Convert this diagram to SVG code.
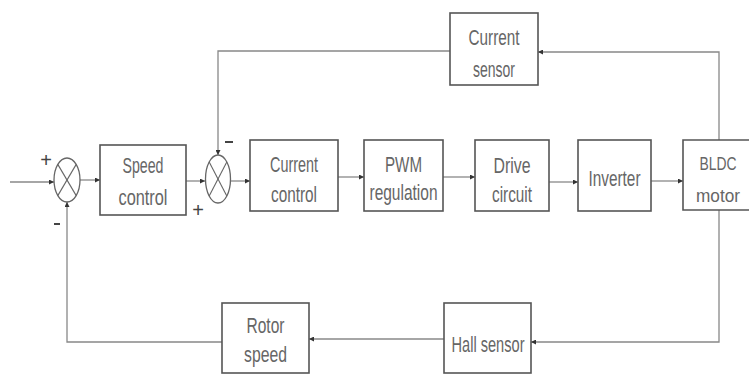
<svg xmlns="http://www.w3.org/2000/svg" width="749" height="374" viewBox="0 0 749 374">
<style>
.box{fill:#fff;stroke:#555;stroke-width:1.6}
.sum{fill:#fff;stroke:#666;stroke-width:1.3}
.x{stroke:#666;stroke-width:1.1}
.ln{fill:none;stroke:#888;stroke-width:1.3}
.t{font-family:"Liberation Sans Narrow","Liberation Sans",Arial,sans-serif;font-size:22px;fill:#666;text-anchor:middle}
.s{font-family:"Liberation Sans",Arial,sans-serif;font-size:20px;fill:#444;text-anchor:middle}
</style>
<defs>
<marker id="ah" viewBox="0 0 10 10" refX="10" refY="5" markerWidth="5" markerHeight="5" orient="auto" markerUnits="userSpaceOnUse">
<path d="M0,0 L10,5 L0,10 z" fill="#333"/>
</marker>
</defs>
<rect width="749" height="374" fill="#fff"/>
<g id="connectors">
<path class="ln" d="M10,182 L54,182" marker-end="url(#ah)"/>
<path class="ln" d="M80,180 L100,180" marker-end="url(#ah)"/>
<path class="ln" d="M186,181 L205,181" marker-end="url(#ah)"/>
<path class="ln" d="M231,181 L250,181" marker-end="url(#ah)"/>
<path class="ln" d="M338,177 L364,177" marker-end="url(#ah)"/>
<path class="ln" d="M443,177 L475,177" marker-end="url(#ah)"/>
<path class="ln" d="M549,182 L578,182" marker-end="url(#ah)"/>
<path class="ln" d="M651,181 L683,181" marker-end="url(#ah)"/>
<path class="ln" d="M719,140 L719,52 L538,52" marker-end="url(#ah)"/>
<path class="ln" d="M450,51 L218,51 L218,155" marker-end="url(#ah)"/>
<path class="ln" d="M719,210 L719,342 L531,342" marker-end="url(#ah)"/>
<path class="ln" d="M444,339 L309,339" marker-end="url(#ah)"/>
<path class="ln" d="M222,342 L67,342 L67,202" marker-end="url(#ah)"/>
</g>
<g id="sum1">
<ellipse class="sum" cx="67" cy="180" rx="13" ry="22"/>
<line class="x" x1="57.8" y1="164.4" x2="76.2" y2="195.6"/>
<line class="x" x1="76.2" y1="164.4" x2="57.8" y2="195.6"/>
<text class="s" x="46" y="167">+</text>
<line x1="54" y1="224" x2="60" y2="224" stroke="#444" stroke-width="2"/>
</g>
<g id="sum2">
<ellipse class="sum" cx="218" cy="179" rx="12.5" ry="24"/>
<line class="x" x1="209.2" y1="162" x2="226.8" y2="196"/>
<line class="x" x1="226.8" y1="162" x2="209.2" y2="196"/>
<line x1="225" y1="142" x2="233" y2="142" stroke="#444" stroke-width="2"/>
<text class="s" x="198" y="217">+</text>
</g>
<g id="speed-control">
<rect class="box" x="100" y="145" width="86" height="70"/>
<text class="t" x="143" y="173" textLength="41" lengthAdjust="spacingAndGlyphs">Speed</text>
<text class="t" x="143" y="205" textLength="49" lengthAdjust="spacingAndGlyphs">control</text>
</g>
<g id="current-control">
<rect class="box" x="250" y="140" width="88" height="71"/>
<text class="t" x="294" y="172" textLength="48" lengthAdjust="spacingAndGlyphs">Current</text>
<text class="t" x="294" y="202" textLength="46" lengthAdjust="spacingAndGlyphs">control</text>
</g>
<g id="pwm-regulation">
<rect class="box" x="364" y="140" width="79" height="71"/>
<text class="t" x="403.5" y="172" textLength="37" lengthAdjust="spacingAndGlyphs">PWM</text>
<text class="t" x="403.5" y="200" textLength="68" lengthAdjust="spacingAndGlyphs">regulation</text>
</g>
<g id="drive-circuit">
<rect class="box" x="475" y="140" width="74" height="71"/>
<text class="t" x="512" y="173" textLength="37" lengthAdjust="spacingAndGlyphs">Drive</text>
<text class="t" x="512" y="202" textLength="40" lengthAdjust="spacingAndGlyphs">circuit</text>
</g>
<g id="inverter">
<rect class="box" x="578" y="140" width="73" height="71"/>
<text class="t" x="614.5" y="186" textLength="52" lengthAdjust="spacingAndGlyphs">Inverter</text>
</g>
<g id="bldc-motor">
<path class="box" d="M749,140 L683,140 L683,210 L749,210"/>
<text class="t" x="718" y="170" textLength="37" lengthAdjust="spacingAndGlyphs" style="font-size:18px">BLDC</text>
<text class="t" x="718" y="202" textLength="44" lengthAdjust="spacingAndGlyphs" style="font-size:19px">motor</text>
</g>
<g id="current-sensor">
<rect class="box" x="450" y="13" width="88" height="72"/>
<text class="t" x="494" y="45" textLength="51" lengthAdjust="spacingAndGlyphs">Current</text>
<text class="t" x="494" y="77" textLength="42" lengthAdjust="spacingAndGlyphs">sensor</text>
</g>
<g id="hall-sensor">
<rect class="box" x="444" y="303" width="87" height="70"/>
<text class="t" x="488" y="352" textLength="73" lengthAdjust="spacingAndGlyphs">Hall sensor</text>
</g>
<g id="rotor-speed">
<rect class="box" x="222" y="303" width="87" height="70"/>
<text class="t" x="265.5" y="333" textLength="38" lengthAdjust="spacingAndGlyphs">Rotor</text>
<text class="t" x="265.5" y="362" textLength="43" lengthAdjust="spacingAndGlyphs">speed</text>
</g>
</svg>
